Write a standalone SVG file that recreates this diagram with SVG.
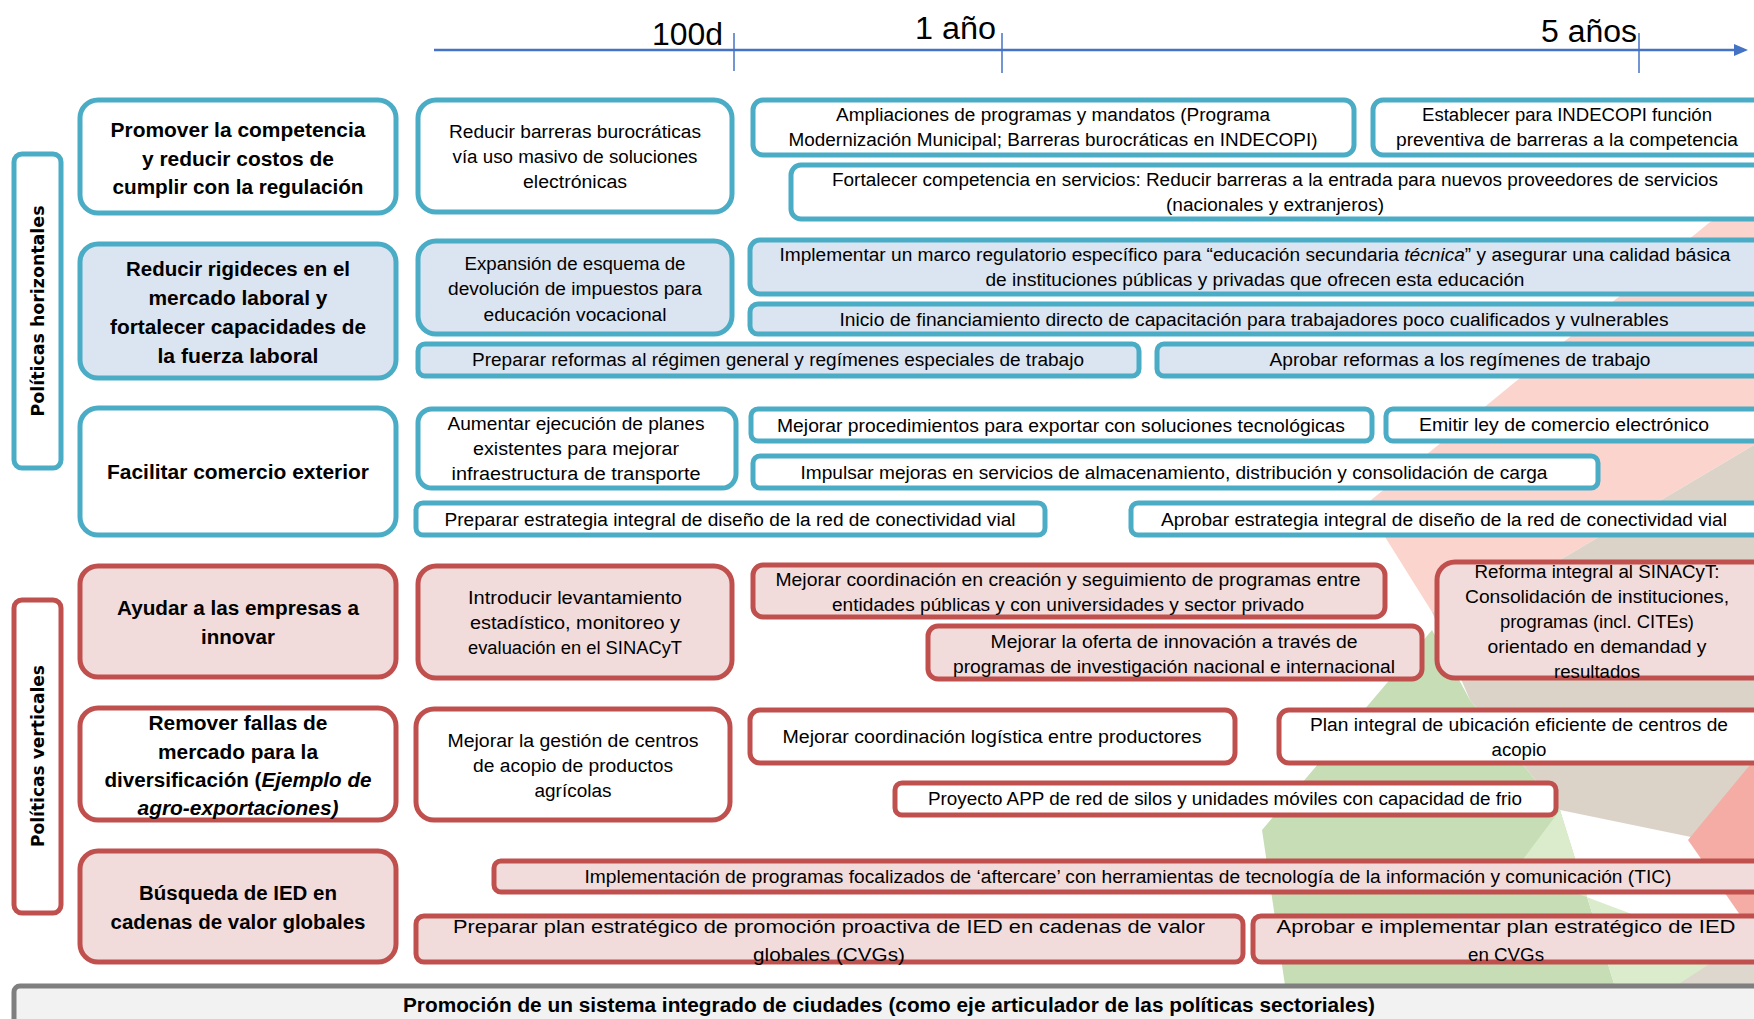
<svg xmlns="http://www.w3.org/2000/svg" width="1754" height="1019" viewBox="0 0 1754 1019">
<style>
.t{font-family:"Liberation Sans",Arial,sans-serif;font-size:18px;fill:#000;text-anchor:middle}
.h{font-family:"Liberation Sans",Arial,sans-serif;font-size:20px;font-weight:bold;fill:#000;text-anchor:middle}
.v{font-family:"DejaVu Sans",sans-serif;font-size:18px;font-weight:bold;fill:#000;text-anchor:middle}
.tl{font-family:"Liberation Sans",Arial,sans-serif;font-size:31px;fill:#000}
.bw{fill:#fff;stroke:#4bacc6;stroke-width:5}
.bb{fill:#dbe5f1;stroke:#4bacc6;stroke-width:5}
.rw{fill:#fff;stroke:#c0504d;stroke-width:5}
.rp{fill:#f2dcdb;stroke:#c0504d;stroke-width:5}
</style>
<defs>
<marker id="arr" markerWidth="14" markerHeight="14" refX="10" refY="7" orient="auto" markerUnits="userSpaceOnUse"><path d="M0,1 L14,7 L0,13 z" fill="#4472c4"/></marker>
</defs>
<rect width="1754" height="1019" fill="#fff"/>
<g id="background">
<polygon points="1710,222 1754,205 1754,445 1560,560 1432,612 1365,505" fill="#fbd5cd"/>
<polygon points="1754,445 1754,850 1560,810 1470,700 1432,612 1560,560" fill="#dcd3c8"/>
<polygon points="1432,630 1470,700 1560,810 1625,1019 1290,1019 1262,830" fill="#c6ddb6"/>
<polygon points="1515,870 1560,810 1625,1019 1754,1019 1754,960" fill="#daeccc"/>
<polygon points="1754,760 1754,935 1688,840" fill="#f4aca4"/>
<polygon points="1625,1019 1754,935 1754,1019" fill="#ddd7ce"/>
</g>
<g id="connectors">
<line x1="434" y1="50" x2="1744" y2="50" stroke="#4472c4" stroke-width="2.5" marker-end="url(#arr)"/>
<line x1="734" y1="33" x2="734" y2="71" stroke="#4472c4" stroke-width="1.5"/>
<line x1="1002" y1="33" x2="1002" y2="73" stroke="#4472c4" stroke-width="1.5"/>
<line x1="1639" y1="33" x2="1639" y2="73" stroke="#4472c4" stroke-width="1.5"/>
</g>
<g id="timeline-labels">
<text class="tl" x="723" y="45" text-anchor="end" textLength="71" lengthAdjust="spacingAndGlyphs">100d</text>
<text class="tl" x="915" y="39" textLength="81" lengthAdjust="spacingAndGlyphs">1 año</text>
<text class="tl" x="1541" y="42" textLength="96" lengthAdjust="spacingAndGlyphs">5 años</text>
</g>
<g id="politicas-horizontales">
<rect x="14" y="154" width="47" height="314" rx="8" fill="#fff" stroke="#4bacc6" stroke-width="5"/>
<text class="v" transform="translate(44,311) rotate(-90)" textLength="211" lengthAdjust="spacingAndGlyphs">Políticas horizontales</text>
</g>
<g id="politicas-verticales">
<rect x="14" y="600" width="47" height="313" rx="8" fill="#fff" stroke="#c0504d" stroke-width="5"/>
<text class="v" transform="translate(44,756) rotate(-90)" textLength="182" lengthAdjust="spacingAndGlyphs">Políticas verticales</text>
</g>
<g id="cat-competencia">
<rect class="bw" x="80" y="100" width="316" height="113" rx="18"/>
<text class="h" x="238" y="137" textLength="255" lengthAdjust="spacingAndGlyphs">Promover la competencia</text>
<text class="h" x="238" y="166" textLength="192" lengthAdjust="spacingAndGlyphs">y reducir costos de</text>
<text class="h" x="238" y="194" textLength="251" lengthAdjust="spacingAndGlyphs">cumplir con la regulación</text>
</g>
<g id="cat-laboral">
<rect class="bb" x="80" y="244" width="316" height="134" rx="18"/>
<text class="h" x="238" y="276" textLength="224" lengthAdjust="spacingAndGlyphs">Reducir rigideces en el</text>
<text class="h" x="238" y="305" textLength="179" lengthAdjust="spacingAndGlyphs">mercado laboral y</text>
<text class="h" x="238" y="334" textLength="256" lengthAdjust="spacingAndGlyphs">fortalecer capacidades de</text>
<text class="h" x="238" y="363" textLength="161" lengthAdjust="spacingAndGlyphs">la fuerza laboral</text>
</g>
<g id="cat-comercio">
<rect class="bw" x="80" y="408" width="316" height="127" rx="18"/>
<text class="h" x="238" y="479" textLength="262" lengthAdjust="spacingAndGlyphs">Facilitar comercio exterior</text>
</g>
<g id="cat-innovar">
<rect class="rp" x="80" y="566" width="316" height="111" rx="18"/>
<text class="h" x="238" y="615" textLength="242" lengthAdjust="spacingAndGlyphs">Ayudar a las empresas a</text>
<text class="h" x="238" y="644" textLength="74" lengthAdjust="spacingAndGlyphs">innovar</text>
</g>
<g id="cat-diversificacion">
<rect class="rw" x="80" y="708" width="316" height="112" rx="18"/>
<text class="h" x="238" y="730" textLength="179" lengthAdjust="spacingAndGlyphs">Remover fallas de</text>
<text class="h" x="238" y="759" textLength="160" lengthAdjust="spacingAndGlyphs">mercado para la</text>
<text class="h" x="238" y="787" textLength="267" lengthAdjust="spacingAndGlyphs">diversificación (<tspan font-style="italic">Ejemplo de</tspan></text>
<text class="h" x="238" y="815" textLength="201" lengthAdjust="spacingAndGlyphs" font-style="italic">agro-exportaciones)</text>
</g>
<g id="cat-ied">
<rect class="rp" x="80" y="851" width="316" height="111" rx="18"/>
<text class="h" x="238" y="900" textLength="198" lengthAdjust="spacingAndGlyphs">Búsqueda de IED en</text>
<text class="h" x="238" y="929" textLength="255" lengthAdjust="spacingAndGlyphs">cadenas de valor globales</text>
</g>
<g id="n-reducir-barreras">
<rect class="bw" x="418" y="100" width="314" height="112" rx="18"/>
<text class="t" x="575" y="138" textLength="252" lengthAdjust="spacingAndGlyphs">Reducir barreras burocráticas</text>
<text class="t" x="575" y="163" textLength="245" lengthAdjust="spacingAndGlyphs">vía uso masivo de soluciones</text>
<text class="t" x="575" y="188" textLength="104" lengthAdjust="spacingAndGlyphs">electrónicas</text>
</g>
<g id="n-ampliaciones">
<rect class="bw" x="753" y="100" width="601" height="55" rx="10"/>
<text class="t" x="1053" y="121" textLength="434" lengthAdjust="spacingAndGlyphs">Ampliaciones de programas y mandatos (Programa</text>
<text class="t" x="1053" y="146" textLength="529" lengthAdjust="spacingAndGlyphs">Modernización Municipal; Barreras burocráticas en INDECOPI)</text>
</g>
<g id="n-establecer">
<rect class="bw" x="1373" y="100" width="410" height="55" rx="10"/>
<text class="t" x="1567" y="121" textLength="290" lengthAdjust="spacingAndGlyphs">Establecer para INDECOPI función</text>
<text class="t" x="1567" y="146" textLength="342" lengthAdjust="spacingAndGlyphs">preventiva de barreras a la competencia</text>
</g>
<g id="n-fortalecer">
<rect class="bw" x="791" y="165" width="990" height="54" rx="10"/>
<text class="t" x="1275" y="186" textLength="886" lengthAdjust="spacingAndGlyphs">Fortalecer competencia en servicios: Reducir barreras a la entrada para nuevos proveedores de servicios</text>
<text class="t" x="1275" y="211" textLength="218" lengthAdjust="spacingAndGlyphs">(nacionales y extranjeros)</text>
</g>
<g id="n-expansion">
<rect class="bb" x="418" y="241" width="314" height="93" rx="18"/>
<text class="t" x="575" y="270" textLength="221" lengthAdjust="spacingAndGlyphs">Expansión de esquema de</text>
<text class="t" x="575" y="295" textLength="254" lengthAdjust="spacingAndGlyphs">devolución de impuestos para</text>
<text class="t" x="575" y="321" textLength="183" lengthAdjust="spacingAndGlyphs">educación vocacional</text>
</g>
<g id="n-implementar-marco">
<rect class="bb" x="750" y="240" width="1030" height="54" rx="10"/>
<text class="t" x="1255" y="261" textLength="951" lengthAdjust="spacingAndGlyphs">Implementar un marco regulatorio específico para “educación secundaria <tspan font-style="italic">técnica</tspan>” y asegurar una calidad básica</text>
<text class="t" x="1255" y="286" textLength="539" lengthAdjust="spacingAndGlyphs">de instituciones públicas y privadas que ofrecen esta educación</text>
</g>
<g id="n-inicio-financiamiento">
<rect class="bb" x="750" y="304" width="1030" height="30" rx="8"/>
<text class="t" x="1254" y="326" textLength="829" lengthAdjust="spacingAndGlyphs">Inicio de financiamiento directo de capacitación para trabajadores poco cualificados y vulnerables</text>
</g>
<g id="n-preparar-reformas">
<rect class="bb" x="418" y="344" width="721" height="32" rx="7"/>
<text class="t" x="778" y="366" textLength="612" lengthAdjust="spacingAndGlyphs">Preparar reformas al régimen general y regímenes especiales de trabajo</text>
</g>
<g id="n-aprobar-reformas">
<rect class="bb" x="1157" y="344" width="620" height="32" rx="7"/>
<text class="t" x="1460" y="366" textLength="381" lengthAdjust="spacingAndGlyphs">Aprobar reformas a los regímenes de trabajo</text>
</g>
<g id="n-aumentar">
<rect class="bw" x="418" y="409" width="318" height="79" rx="14"/>
<text class="t" x="576" y="430" textLength="257" lengthAdjust="spacingAndGlyphs">Aumentar ejecución de planes</text>
<text class="t" x="576" y="455" textLength="206" lengthAdjust="spacingAndGlyphs">existentes para mejorar</text>
<text class="t" x="576" y="480" textLength="249" lengthAdjust="spacingAndGlyphs">infraestructura de transporte</text>
</g>
<g id="n-procedimientos">
<rect class="bw" x="751" y="409" width="621" height="32" rx="7"/>
<text class="t" x="1061" y="432" textLength="568" lengthAdjust="spacingAndGlyphs">Mejorar procedimientos para exportar con soluciones tecnológicas</text>
</g>
<g id="n-emitir-ley">
<rect class="bw" x="1386" y="409" width="400" height="32" rx="7"/>
<text class="t" x="1564" y="431" textLength="290" lengthAdjust="spacingAndGlyphs">Emitir ley de comercio electrónico</text>
</g>
<g id="n-impulsar">
<rect class="bw" x="753" y="456" width="845" height="32" rx="7"/>
<text class="t" x="1174" y="479" textLength="747" lengthAdjust="spacingAndGlyphs">Impulsar mejoras en servicios de almacenamiento, distribución y consolidación de carga</text>
</g>
<g id="n-preparar-estrategia">
<rect class="bw" x="416" y="503" width="629" height="32" rx="7"/>
<text class="t" x="730" y="526" textLength="571" lengthAdjust="spacingAndGlyphs">Preparar estrategia integral de diseño de la red de conectividad vial</text>
</g>
<g id="n-aprobar-estrategia">
<rect class="bw" x="1131" y="503" width="650" height="32" rx="7"/>
<text class="t" x="1444" y="526" textLength="566" lengthAdjust="spacingAndGlyphs">Aprobar estrategia integral de diseño de la red de conectividad vial</text>
</g>
<g id="n-introducir">
<rect class="rp" x="418" y="566" width="314" height="112" rx="18"/>
<text class="t" x="575" y="604" textLength="214" lengthAdjust="spacingAndGlyphs">Introducir levantamiento</text>
<text class="t" x="575" y="629" textLength="210" lengthAdjust="spacingAndGlyphs">estadístico, monitoreo y</text>
<text class="t" x="575" y="654" textLength="214" lengthAdjust="spacingAndGlyphs">evaluación en el SINACyT</text>
</g>
<g id="n-coordinacion-programas">
<rect class="rp" x="753" y="565" width="632" height="52" rx="10"/>
<text class="t" x="1068" y="586" textLength="585" lengthAdjust="spacingAndGlyphs">Mejorar coordinación en creación y seguimiento de programas entre</text>
<text class="t" x="1068" y="611" textLength="472" lengthAdjust="spacingAndGlyphs">entidades públicas y con universidades y sector privado</text>
</g>
<g id="n-oferta-innovacion">
<rect class="rp" x="928" y="626" width="494" height="53" rx="10"/>
<text class="t" x="1174" y="648" textLength="367" lengthAdjust="spacingAndGlyphs">Mejorar la oferta de innovación a través de</text>
<text class="t" x="1174" y="673" textLength="442" lengthAdjust="spacingAndGlyphs">programas de investigación nacional e internacional</text>
</g>
<g id="n-reforma-sinacyt">
<rect class="rp" x="1437" y="562" width="345" height="116" rx="18"/>
<text class="t" x="1597" y="578" textLength="245" lengthAdjust="spacingAndGlyphs">Reforma integral al SINACyT:</text>
<text class="t" x="1597" y="603" textLength="264" lengthAdjust="spacingAndGlyphs">Consolidación de instituciones,</text>
<text class="t" x="1597" y="628" textLength="194" lengthAdjust="spacingAndGlyphs">programas (incl. CITEs)</text>
<text class="t" x="1597" y="653" textLength="219" lengthAdjust="spacingAndGlyphs">orientado en demandad y</text>
<text class="t" x="1597" y="678" textLength="86" lengthAdjust="spacingAndGlyphs">resultados</text>
</g>
<g id="n-gestion-acopio">
<rect class="rw" x="416" y="709" width="314" height="111" rx="18"/>
<text class="t" x="573" y="747" textLength="251" lengthAdjust="spacingAndGlyphs">Mejorar la gestión de centros</text>
<text class="t" x="573" y="772" textLength="200" lengthAdjust="spacingAndGlyphs">de acopio de productos</text>
<text class="t" x="573" y="797" textLength="77" lengthAdjust="spacingAndGlyphs">agrícolas</text>
</g>
<g id="n-coordinacion-logistica">
<rect class="rw" x="750" y="710" width="485" height="53" rx="10"/>
<text class="t" x="992" y="743" textLength="419" lengthAdjust="spacingAndGlyphs">Mejorar coordinación logística entre productores</text>
</g>
<g id="n-plan-acopio">
<rect class="rw" x="1279" y="710" width="505" height="53" rx="10"/>
<text class="t" x="1519" y="731" textLength="418" lengthAdjust="spacingAndGlyphs">Plan integral de ubicación eficiente de centros de</text>
<text class="t" x="1519" y="756" textLength="55" lengthAdjust="spacingAndGlyphs">acopio</text>
</g>
<g id="n-proyecto-app">
<rect class="rw" x="895" y="783" width="661" height="32" rx="7"/>
<text class="t" x="1225" y="805" textLength="594" lengthAdjust="spacingAndGlyphs">Proyecto APP de red de silos y unidades móviles con capacidad de frio</text>
</g>
<g id="n-aftercare">
<rect class="rp" x="494" y="861" width="1290" height="31" rx="7"/>
<text class="t" x="1128" y="883" textLength="1087" lengthAdjust="spacingAndGlyphs">Implementación de programas focalizados de ‘aftercare’ con herramientas de tecnología de la información y comunicación (TIC)</text>
</g>
<g id="n-preparar-plan">
<rect class="rp" x="416" y="916" width="827" height="46" rx="8"/>
<text class="t" x="829" y="933" font-size="21" textLength="752" lengthAdjust="spacingAndGlyphs">Preparar plan estratégico de promoción proactiva de IED en cadenas de valor</text>
<text class="t" x="829" y="961" font-size="21" textLength="152" lengthAdjust="spacingAndGlyphs">globales (CVGs)</text>
</g>
<g id="n-aprobar-plan">
<rect class="rp" x="1253" y="916" width="530" height="46" rx="8"/>
<text class="t" x="1506" y="933" font-size="21" textLength="459" lengthAdjust="spacingAndGlyphs">Aprobar e implementar plan estratégico de IED</text>
<text class="t" x="1506" y="961" font-size="21" textLength="76" lengthAdjust="spacingAndGlyphs">en CVGs</text>
</g>
<g id="bottom-bar">
<rect x="14" y="986" width="1770" height="45" rx="6" fill="#f2f2f2" stroke="#7f7f7f" stroke-width="5"/>
<text class="h" x="889" y="1012" font-size="19" textLength="972" lengthAdjust="spacingAndGlyphs">Promoción de un sistema integrado de ciudades (como eje articulador de las políticas sectoriales)</text>
</g>
</svg>
